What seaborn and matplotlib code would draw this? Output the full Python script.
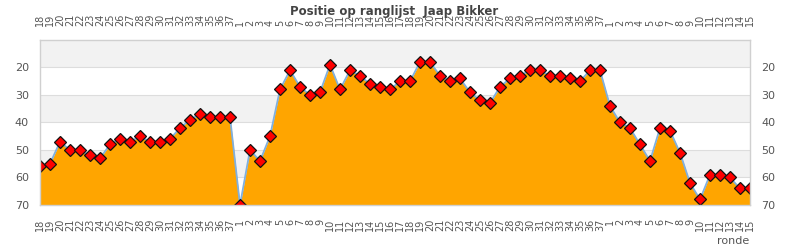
import matplotlib
matplotlib.use("Agg")
import matplotlib.pyplot as plt
import seaborn as sns
import pandas as pd
import numpy as np
from matplotlib import font_manager

rounds_a = list(range(18, 38))
rounds_b = list(range(1, 38))
rounds_c = list(range(1, 16))
tick_labels = [str(r) for r in rounds_a + rounds_b + rounds_c]

pos_a = [56, 55, 47, 50, 50, 52, 53, 48, 46, 47, 45, 47, 47, 46, 42, 39, 37, 38, 38, 38]
pos_b = [70, 50, 54, 45, 28, 21, 27, 30, 29, 19, 28, 21, 23, 26, 27, 28, 25, 25, 18, 18,
         23, 25, 24, 29, 32, 33, 27, 24, 23, 21, 21, 23, 23, 24, 25, 21, 21]
pos_c = [34, 40, 42, 48, 54, 42, 43, 51, 62, 68, 59, 59, 60, 64, 64]
positions = pos_a + pos_b + pos_c

title = "Positie op ranglijst  Jaap Bikker"
xlabel = "ronde"
yticks = [20, 30, 40, 50, 60, 70]

df = pd.DataFrame({"idx": np.arange(len(positions)), "pos": positions})

sns.set_theme(style="white")
plt.rcParams['font.family'] = ['DejaVu Sans']

available = {f.name for f in font_manager.fontManager.ttflist}
title_family = "DejaVu Sans"
for cand in ("DejaVu Sans Condensed", "Liberation Sans Narrow"):
    if cand in available:
        title_family = cand
        break

fig = plt.figure(figsize=(7.9, 2.5), dpi=100)
ax = fig.add_axes([40/790, 45/250, 710/790, 165/250])

# alternating bands
for lo in (10, 30, 50):
    ax.axhspan(lo, lo + 10, color="#f2f2f2", zorder=0, lw=0)
for y in yticks:
    ax.axhline(y, color="#dddddd", lw=0.8, zorder=0.5)

ax.fill_between(df["idx"], df["pos"], 70, color="#FFA500", lw=0, zorder=1)
sns.lineplot(data=df, x="idx", y="pos", ax=ax, color="#7fb0e0", lw=1.3, zorder=2,
             marker="D", markersize=6.5, markerfacecolor="#ff0000",
             markeredgecolor="#111111", markeredgewidth=0.9)

ax.set_xlim(0, len(positions) - 1)
ax.set_ylim(70, 10)
ax.set_yticks(yticks)
ax.set_xticks(df["idx"])
ax.set_xticklabels(tick_labels, rotation=90, fontsize=7, color="#555555")
ax.tick_params(axis="x", top=True, labeltop=True, bottom=True, labelbottom=True,
               length=0, pad=10)
ax.tick_params(axis="y", left=True, right=True, labelleft=True, labelright=True,
               length=0, pad=8, labelsize=8, labelcolor="#555555")
for lab in ax.get_xticklabels(which="both"):
    lab.set_fontsize(7)
ax.set_xlabel("")
ax.set_ylabel("")
for s in ax.spines.values():
    s.set_color("#d0d0d0")
    s.set_linewidth(1)

tsize = 10 if title_family != "DejaVu Sans" else 8.5
fig.text(394/790, 1 - 11/250, title, ha="center", va="center", fontsize=tsize,
         fontweight="bold", color="#444444", family=title_family)
fig.text(749/790, 1 - 241/250, xlabel, ha="right", va="center", fontsize=8, color="#555555")

fig.savefig("out.png", dpi=100)
